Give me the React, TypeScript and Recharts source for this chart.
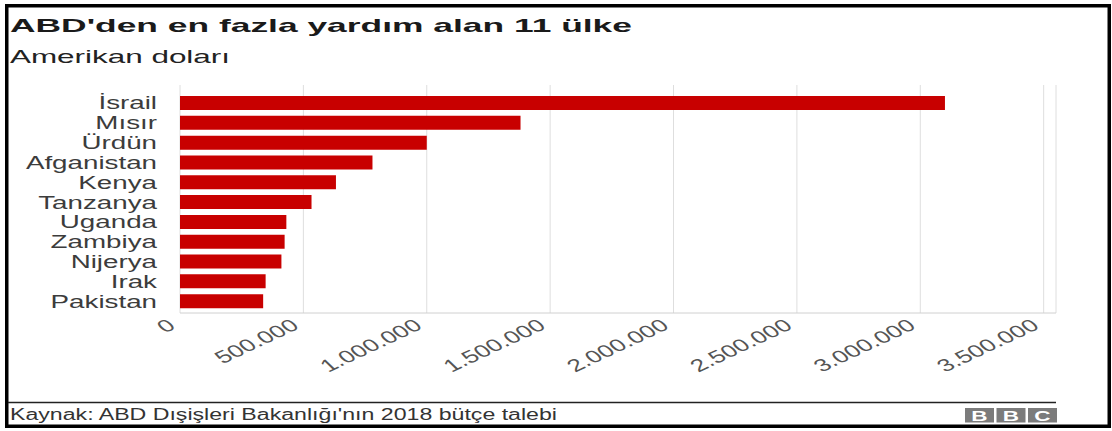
import { BarChart, Bar, XAxis, YAxis, CartesianGrid } from "recharts";

const countries = [
    "İsrail",
    "Mısır",
    "Ürdün",
    "Afganistan",
    "Kenya",
    "Tanzanya",
    "Uganda",
    "Zambiya",
    "Nijerya",
    "Irak",
    "Pakistan",
];
const aid = [3100000, 1380000, 1000000, 780000, 632000, 533000, 431000, 424000, 411000, 347000, 337000];
const xTicks = [0, 500000, 1000000, 1500000, 2000000, 2500000, 3000000, 3500000];
const xTickLabels = ["0", "500.000", "1.000.000", "1.500.000", "2.000.000", "2.500.000", "3.000.000", "3.500.000"];

const data = countries.map((country, i) => ({ country, value: aid[i] }));

const FONT = "'Liberation Sans', Arial, sans-serif";

const YTick = (props: any) => {
    const { x, y, payload } = props;
    return (
        <text
            transform={`translate(${x},${y}) scale(1.5,1)`}
            textAnchor="end"
            dy="0.355em"
            fontSize={18.5}
            fontFamily={FONT}
            fill="#3c3c3c"
        >
            {payload.value}
        </text>
    );
};

const XTick = (props: any) => {
    const { x, y, payload } = props;
    const idx = xTicks.indexOf(payload.value);
    return (
        <text
            transform={`translate(${x - 3},${y + 15}) scale(1.5,1) rotate(-35)`}
            textAnchor="end"
            fontSize={17.5}
            fontFamily={FONT}
            fill="#555"
        >
            {xTickLabels[idx]}
        </text>
    );
};

export default function App() {
    return (
        <div style={{ position: "absolute", left: 0, top: 0, width: 1112, height: 431, background: "#fff" }}>
            <BarChart
                width={1112}
                height={431}
                data={data}
                layout="vertical"
                margin={{ top: 85, right: 56, bottom: 58, left: 10 }}
            >
                <CartesianGrid horizontal={false} stroke="#dedede" />
                <XAxis
                    type="number"
                    domain={[0, 3550000]}
                    ticks={xTicks}
                    interval={0}
                    height={60}
                    axisLine={{ stroke: "#d0d0d0" }}
                    tickLine={false}
                    tickSize={0}
                    tickMargin={0}
                    tick={<XTick />}
                />
                <YAxis
                    type="category"
                    dataKey="country"
                    width={170}
                    interval={0}
                    axisLine={false}
                    tickLine={false}
                    tickSize={0}
                    tickMargin={23}
                    padding={{ top: 8, bottom: 2 }}
                    tick={<YTick />}
                />
                <Bar dataKey="value" fill="#c80000" barSize={14} isAnimationActive={false} />
            </BarChart>

            <svg
                width={1112}
                height={431}
                style={{ position: "absolute", left: 0, top: 0, pointerEvents: "none" }}
            >
                <rect x={6.75} y={5.75} width={1102.5} height={420.5} fill="none" stroke="#000" strokeWidth={3.5} />
                <text
                    x={10}
                    y={32.3}
                    fontSize={19}
                    fontWeight="bold"
                    fontFamily={FONT}
                    fill="#1a1a1a"
                    textLength={622}
                    lengthAdjust="spacingAndGlyphs"
                >
                    ABD'den en fazla yardım alan 11 ülke
                </text>
                <text
                    x={10}
                    y={63.3}
                    fontSize={18.5}
                    fontFamily={FONT}
                    fill="#222"
                    textLength={220}
                    lengthAdjust="spacingAndGlyphs"
                >
                    Amerikan doları
                </text>
                <line x1={8} x2={1056} y1={402.5} y2={402.5} stroke="#222" strokeWidth={1.5} />
                <text
                    x={10}
                    y={420}
                    fontSize={16}
                    fontFamily={FONT}
                    fill="#333"
                    textLength={547}
                    lengthAdjust="spacingAndGlyphs"
                >
                    Kaynak: ABD Dışişleri Bakanlığı'nın 2018 bütçe talebi
                </text>
                {["B", "B", "C"].map((letter, i) => (
                    <g key={i} transform={`translate(${965 + i * 31.5},408)`}>
                        <rect width={29} height={14.5} fill="#7b7b7b" />
                        <text
                            transform="translate(14.5,12.6) scale(1.5,1)"
                            textAnchor="middle"
                            fontSize={15}
                            fontWeight="bold"
                            fontFamily={FONT}
                            fill="#fff"
                        >
                            {letter}
                        </text>
                    </g>
                ))}
            </svg>
        </div>
    );
}
